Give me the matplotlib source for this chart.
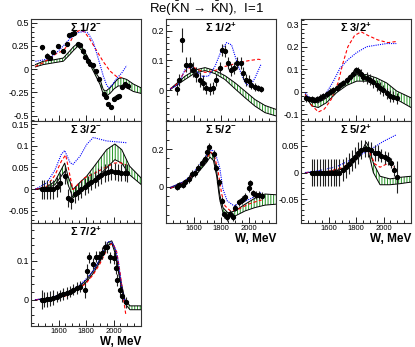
import matplotlib
matplotlib.use("Agg")
import matplotlib.pyplot as plt
from matplotlib.ticker import FixedLocator, MultipleLocator, FuncFormatter

plt.rcParams['font.family'] = ['Liberation Sans', 'DejaVu Sans']
plt.rcParams['mathtext.fontset'] = 'custom'
plt.rcParams['mathtext.rm'] = 'Liberation Sans'
plt.rcParams['mathtext.bf'] = 'Liberation Sans:bold'
plt.rcParams['mathtext.it'] = 'Liberation Sans:italic'
plt.rcParams['hatch.linewidth'] = 0.75

# ---------------- data ----------------
# Sigma 1/2-
p1_w = [1478, 1514, 1538, 1562, 1598, 1635, 1660, 1679, 1696, 1713, 1740, 1756, 1776, 1793, 1812,
        1829, 1849, 1873, 1897, 1931, 1945, 1962, 1982, 2003, 2023, 2042, 2064, 2083, 2103]
p1_v = [0.235, 0.139, 0.122, 0.18, 0.253, 0.2, 0.27, 0.37, 0.375, 0.389, 0.275, 0.264, 0.192, 0.132, 0.085,
        0.058, 0.04, -0.021, -0.11, -0.263, -0.299, -0.37, -0.402, -0.316, -0.295, -0.29, -0.188, -0.163, -0.18]
p1_err = [0.025, 0.03, 0.025, 0.02, 0.02, 0.02, 0.015, 0.015, 0.015, 0.015, 0.015, 0.015, 0.015, 0.015, 0.015,
          0.015, 0.015, 0.015, 0.015, 0.02, 0.02, 0.02, 0.02, 0.025, 0.025, 0.025, 0.025, 0.025, 0.025]
p1_red_w = [1432, 1490, 1538, 1587, 1635, 1684, 1720, 1756, 1790, 1829, 1877, 1926, 1975, 2023, 2060]
p1_red_v = [0.03, 0.07, 0.12, 0.17, 0.2, 0.29, 0.39, 0.42, 0.40, 0.32, 0.2, 0.08, -0.02, -0.08, -0.09]
p1_blue_w = [1432, 1490, 1538, 1587, 1635, 1684, 1732, 1780, 1815, 1853, 1877, 1902, 1926, 1950, 1965,
             1990, 2023, 2060, 2096]
p1_blue_v = [0.085, 0.1, 0.12, 0.18, 0.25, 0.33, 0.39, 0.405, 0.39, 0.29, 0.175, 0.05, -0.074, -0.17, -0.2,
             -0.17, -0.1, -0.04, 0.04]
p1_band_w = [1432, 1490, 1562, 1635, 1684, 1708, 1740, 1770, 1805, 1829, 1877, 1902, 1926, 1945, 1975,
             2005, 2035, 2060, 2096, 2145, 2200]
p1_band_hi = [0.05, 0.086, 0.1, 0.12, 0.2, 0.24, 0.28, 0.24, 0.15, 0.086, -0.05, -0.11, -0.22, -0.235, -0.2,
              -0.147, -0.1, -0.093, -0.11, -0.16, -0.2]
p1_band_lo = [0.025, 0.05, 0.068, 0.086, 0.16, 0.2, 0.246, 0.2, 0.1, 0.05, -0.09, -0.164, -0.27, -0.29, -0.26,
              -0.21, -0.18, -0.18, -0.2, -0.24, -0.26]

# Sigma 1/2+
p2_w = [1478, 1497, 1514, 1548, 1572, 1596, 1620, 1645, 1669, 1693, 1717, 1741, 1765, 1790, 1807,
        1826, 1850, 1874, 1898, 1918, 1942, 1959, 1979, 2001, 2020, 2044, 2068, 2093]
p2_v = [0.005, 0.036, 0.169, 0.086, 0.086, 0.069, 0.052, 0.036, 0.025, 0.008, 0.005, 0.008, 0.036, 0.075, 0.136,
        0.133, 0.091, 0.069, 0.075, 0.091, 0.091, 0.058, 0.036, 0.03, 0.019, 0.011, 0.008, 0.005]
p2_err = [0.02, 0.02, 0.04, 0.025, 0.025, 0.025, 0.025, 0.025, 0.025, 0.02, 0.02, 0.02, 0.02, 0.02, 0.02,
          0.02, 0.02, 0.02, 0.02, 0.02, 0.02, 0.02, 0.02, 0.02, 0.015, 0.015, 0.01, 0.01]
p2_red_w = [1432, 1478, 1538, 1587, 1635, 1684, 1756, 1829, 1902, 1975, 2010, 2072, 2096]
p2_red_v = [0.005, 0.02, 0.064, 0.08, 0.069, 0.06, 0.066, 0.08, 0.089, 0.097, 0.1, 0.104, 0.102]
p2_blue_w = [1432, 1490, 1538, 1572, 1611, 1659, 1708, 1756, 1805, 1841, 1877, 1926, 1975, 2010, 2047, 2090]
p2_blue_v = [0.005, 0.02, 0.069, 0.08, 0.069, 0.047, 0.047, 0.08, 0.136, 0.16, 0.152, 0.08, 0.025, 0.013,
             0.041, 0.086]
p2_band_w = [1432, 1538, 1611, 1684, 1756, 1829, 1902, 1975, 2047, 2120, 2200]
p2_band_hi = [0.005, 0.047, 0.068, 0.076, 0.066, 0.049, 0.025, -0.003, -0.031, -0.051, -0.064]
p2_band_lo = [0.003, 0.036, 0.058, 0.066, 0.056, 0.036, 0.005, -0.025, -0.053, -0.075, -0.086]

# Sigma 3/2+
p3_w = [1438, 1458, 1478, 1497, 1514, 1538, 1562, 1587, 1611, 1635, 1659, 1684, 1708, 1732, 1756,
        1780, 1800, 1817, 1834, 1853, 1877, 1902, 1926, 1950, 1975, 1999, 2023, 2047, 2072, 2096]
p3_v = [-0.03, -0.032, -0.034, -0.037, -0.034, -0.027, -0.02, -0.01, 0.0, 0.007, 0.017, 0.028, 0.039, 0.051,
        0.065, 0.08, 0.095, 0.09, 0.08, 0.065, 0.061, 0.054, 0.042, 0.028, 0.017, 0.006, -0.007, -0.019,
        -0.022, -0.03]
p3_err = [0.015, 0.015, 0.015, 0.015, 0.015, 0.015, 0.015, 0.015, 0.015, 0.015, 0.015, 0.015, 0.015, 0.015,
          0.015, 0.015, 0.015, 0.02, 0.02, 0.02, 0.025, 0.025, 0.025, 0.025, 0.025, 0.025, 0.025, 0.025,
          0.025, 0.025]
p3_red_w = [1432, 1478, 1526, 1570, 1620, 1669, 1705, 1741, 1790, 1838, 1887, 1959, 2032, 2093]
p3_red_v = [-0.012, -0.06, -0.09, -0.077, -0.034, 0.039, 0.127, 0.2, 0.25, 0.266, 0.25, 0.23, 0.218, 0.223]
p3_blue_w = [1432, 1478, 1526, 1586, 1635, 1684, 1741, 1805, 1878, 1950, 2023, 2093]
p3_blue_v = [-0.005, -0.041, -0.041, -0.004, 0.046, 0.105, 0.142, 0.174, 0.2, 0.207, 0.214, 0.214]
p3_band_w = [1432, 1478, 1526, 1587, 1659, 1732, 1805, 1877, 1950, 2023, 2096, 2200]
p3_band_hi = [-0.012, -0.048, -0.048, -0.027, 0.017, 0.054, 0.076, 0.076, 0.061, 0.039, 0.003, -0.027]
p3_band_lo = [-0.019, -0.063, -0.07, -0.048, -0.004, 0.028, 0.047, 0.047, 0.032, 0.003, -0.034, -0.07]

# Sigma 3/2-
p4_w = [1478, 1497, 1514, 1538, 1562, 1587, 1611, 1645, 1672, 1693, 1717, 1741, 1765, 1790, 1814,
        1838, 1863, 1887, 1911, 1935, 1959, 1984, 2008, 2032, 2057, 2081, 2100]
p4_v = [0.0, 0.0, 0.0, 0.0, 0.0, 0.005, 0.015, 0.031, -0.02, -0.025, -0.012, -0.006, 0.0, 0.006, 0.011,
        0.017, 0.022, 0.028, 0.033, 0.037, 0.039, 0.041, 0.04, 0.039, 0.038, 0.038, 0.037]
p4_err = [0.022, 0.022, 0.022, 0.022, 0.022, 0.022, 0.022, 0.02, 0.02, 0.02, 0.02, 0.02, 0.02, 0.02, 0.02,
          0.02, 0.02, 0.02, 0.02, 0.02, 0.02, 0.02, 0.02, 0.02, 0.02, 0.02, 0.02]
p4_red_w = [1432, 1514, 1574, 1620, 1652, 1684, 1705, 1741, 1790, 1863, 1935, 2007, 2047, 2093]
p4_red_v = [0.0, 0.006, 0.032, 0.064, 0.079, 0.03, -0.001, 0.011, 0.026, 0.037, 0.049, 0.06, 0.061, 0.056]
p4_blue_w = [1432, 1514, 1574, 1620, 1645, 1684, 1705, 1757, 1805, 1853, 1902, 1950, 2023, 2093]
p4_blue_v = [0.0, 0.014, 0.044, 0.08, 0.089, 0.061, 0.057, 0.076, 0.103, 0.119, 0.115, 0.111, 0.109, 0.107]
p4_band_w = [1432, 1514, 1574, 1620, 1645, 1669, 1705, 1741, 1805, 1877, 1950, 2010, 2060, 2117, 2200]
p4_band_hi = [0.0, 0.005, 0.018, 0.045, 0.06, 0.03, -0.001, 0.011, 0.03, 0.06, 0.091, 0.104, 0.091, 0.053,
              0.026]
p4_band_lo = [-0.001, 0.002, 0.01, 0.03, 0.041, 0.011, -0.02, -0.012, 0.007, 0.026, 0.049, 0.068, 0.06,
              0.033, 0.011]

# Sigma 5/2-
p5_w = [1478, 1497, 1520, 1541, 1565, 1590, 1610, 1635, 1664, 1684, 1700, 1712, 1749, 1766, 1785,
        1804, 1821, 1845, 1869, 1889, 1905, 1929, 1953, 1977, 2001, 2013, 2030, 2054, 2078, 2098]
p5_v = [0.0, 0.007, 0.011, 0.023, 0.041, 0.068, 0.071, 0.1, 0.125, 0.148, 0.184, 0.211, 0.175, 0.1, 0.023,
        -0.075, -0.147, -0.161, -0.143, -0.161, -0.111, -0.084, -0.072, -0.054, -0.007, 0.018, -0.036,
        -0.043, -0.043, -0.048]
p5_err = [0.02] * 30
p5_red_w = [1432, 1538, 1635, 1696, 1725, 1752, 1780, 1805, 1829, 1869, 1926, 1999, 2072, 2096]
p5_red_v = [-0.007, 0.023, 0.09, 0.148, 0.184, 0.166, 0.077, -0.039, -0.102, -0.129, -0.12, -0.093, -0.075,
            -0.071]
p5_blue_w = [1432, 1538, 1635, 1696, 1732, 1756, 1790, 1814, 1845, 1894, 1955, 2023, 2093]
p5_blue_v = [-0.004, 0.029, 0.104, 0.166, 0.196, 0.184, 0.104, -0.013, -0.075, -0.102, -0.084, -0.061, -0.03]
p5_band_w = [1432, 1538, 1635, 1696, 1720, 1745, 1768, 1790, 1814, 1850, 1902, 1975, 2047, 2120, 2200]
p5_band_hi = [-0.004, 0.029, 0.095, 0.157, 0.184, 0.166, 0.086, -0.039, -0.111, -0.139, -0.129, -0.093,
              -0.061, -0.039, -0.043]
p5_band_lo = [-0.009, 0.018, 0.077, 0.13, 0.157, 0.139, 0.059, -0.066, -0.138, -0.161, -0.156, -0.129,
              -0.111, -0.098, -0.093]

# Sigma 5/2+
p6_w = [1478, 1498, 1518, 1538, 1558, 1578, 1598, 1618, 1638, 1658, 1678, 1705, 1729, 1749, 1770,
        1790, 1814, 1838, 1863, 1887, 1911, 1935, 1959, 1984, 2008, 2032, 2057, 2074, 2098]
p6_v = [0.0, 0.0, 0.0, 0.0, 0.0, 0.0, 0.0, 0.0, 0.0, 0.0, 0.0, 0.005, 0.01, 0.017, 0.023,
        0.029, 0.037, 0.043, 0.045, 0.045, 0.042, 0.037, 0.036, 0.032, 0.029, 0.026, 0.018, 0.004, -0.008]
p6_err = [0.025, 0.025, 0.025, 0.025, 0.025, 0.025, 0.025, 0.025, 0.025, 0.025, 0.025, 0.02, 0.02, 0.02, 0.02,
          0.02, 0.02, 0.018, 0.016, 0.015, 0.015, 0.015, 0.015, 0.012, 0.012, 0.012, 0.01, 0.01, 0.03]
p6_red_w = [1432, 1587, 1708, 1780, 1829, 1863, 1902, 1938, 1975, 2023, 2047, 2079]
p6_red_v = [0.0, 0.001, 0.01, 0.024, 0.036, 0.043, 0.036, 0.016, 0.01, 0.016, 0.016, 0.01]
p6_blue_w = [1432, 1538, 1659, 1780, 1902, 1995, 2093]
p6_blue_v = [0.0, 0.004, 0.011, 0.026, 0.043, 0.058, 0.071]
p6_band_w = [1432, 1538, 1659, 1757, 1829, 1853, 1874, 1890, 1902, 1926, 1975, 2047, 2120, 2200]
p6_band_hi = [0.0, 0.001, 0.004, 0.013, 0.034, 0.046, 0.057, 0.05, 0.04, 0.018, -0.007, -0.012, -0.009,
              -0.007]
p6_band_lo = [0.0, 0.0, 0.003, 0.012, 0.031, 0.042, 0.05, 0.04, 0.026, 0.0, -0.023, -0.023, -0.021, -0.018]

# Sigma 7/2+
p7_w = [1478, 1497, 1514, 1538, 1562, 1587, 1611, 1635, 1659, 1684, 1708, 1732, 1756, 1790, 1805,
        1822, 1850, 1870, 1894, 1914, 1938, 1955, 1975, 2000, 2016, 2028, 2047, 2064, 2088]
p7_v = [0.0, 0.0, 0.001, 0.003, 0.005, 0.008, 0.011, 0.014, 0.017, 0.021, 0.026, 0.03, 0.034, 0.025, 0.073,
        0.109, 0.093, 0.111, 0.111, 0.121, 0.137, 0.135, 0.109, 0.107, 0.081, 0.051, 0.026, 0.009, -0.007]
p7_err = [0.025, 0.02, 0.02, 0.02, 0.02, 0.015, 0.015, 0.015, 0.015, 0.015, 0.015, 0.015, 0.015, 0.02, 0.02,
          0.015, 0.015, 0.015, 0.015, 0.015, 0.015, 0.015, 0.015, 0.015, 0.015, 0.015, 0.015, 0.015, 0.015]
p7_red_w = [1432, 1538, 1659, 1756, 1805, 1853, 1902, 1950, 1975, 1995, 2023, 2047, 2072, 2090]
p7_red_v = [0.0, 0.002, 0.01, 0.03, 0.044, 0.065, 0.093, 0.128, 0.141, 0.146, 0.124, 0.072, 0.004, -0.04]
p7_blue_w = [1432, 1538, 1659, 1756, 1805, 1853, 1902, 1940, 1962, 1990, 2015, 2035, 2060, 2085]
p7_blue_v = [0.0, 0.004, 0.018, 0.038, 0.055, 0.075, 0.105, 0.14, 0.15, 0.148, 0.13, 0.1, 0.03, -0.01]
p7_band_w = [1432, 1538, 1659, 1756, 1805, 1853, 1902, 1940, 1962, 1987, 2010, 2047, 2083, 2120, 2160, 2200]
p7_band_hi = [0.0, 0.004, 0.019, 0.036, 0.052, 0.075, 0.104, 0.135, 0.148, 0.152, 0.132, 0.06, 0.0, -0.016,
              -0.016, -0.016]
p7_band_lo = [0.0, 0.002, 0.015, 0.031, 0.047, 0.068, 0.098, 0.128, 0.141, 0.146, 0.122, 0.05, -0.01,
              -0.026, -0.026, -0.026]

titles = [r'$\mathbf{\Sigma\ 1/2^{-}}$', r'$\mathbf{\Sigma\ 1/2^{+}}$', r'$\mathbf{\Sigma\ 3/2^{+}}$',
          r'$\mathbf{\Sigma\ 3/2^{-}}$', r'$\mathbf{\Sigma\ 5/2^{-}}$', r'$\mathbf{\Sigma\ 5/2^{+}}$',
          r'$\mathbf{\Sigma\ 7/2^{+}}$']
ylims = [(-0.557, 0.54), (-0.103, 0.239), (-0.13, 0.323), (-0.078, 0.157),
         (-0.193, 0.349), (-0.095, 0.097), (-0.068, 0.198)]
yticks = [[-0.5, -0.25, 0, 0.25, 0.5], [0, 0.1, 0.2], [-0.1, 0, 0.1, 0.2, 0.3],
          [-0.05, 0, 0.05, 0.1, 0.15], [0, 0.2], [-0.05, 0, 0.05], [0, 0.1]]
yminor = [0.05, 0.02, 0.02, 0.01, 0.05, 0.01, 0.02]

panels = [
    (p1_w, p1_v, p1_err, p1_red_w, p1_red_v, p1_blue_w, p1_blue_v, p1_band_w, p1_band_lo, p1_band_hi),
    (p2_w, p2_v, p2_err, p2_red_w, p2_red_v, p2_blue_w, p2_blue_v, p2_band_w, p2_band_lo, p2_band_hi),
    (p3_w, p3_v, p3_err, p3_red_w, p3_red_v, p3_blue_w, p3_blue_v, p3_band_w, p3_band_lo, p3_band_hi),
    (p4_w, p4_v, p4_err, p4_red_w, p4_red_v, p4_blue_w, p4_blue_v, p4_band_w, p4_band_lo, p4_band_hi),
    (p5_w, p5_v, p5_err, p5_red_w, p5_red_v, p5_blue_w, p5_blue_v, p5_band_w, p5_band_lo, p5_band_hi),
    (p6_w, p6_v, p6_err, p6_red_w, p6_red_v, p6_blue_w, p6_blue_v, p6_band_w, p6_band_lo, p6_band_hi),
    (p7_w, p7_v, p7_err, p7_red_w, p7_red_v, p7_blue_w, p7_blue_v, p7_band_w, p7_band_lo, p7_band_hi),
]

# ---------------- layout (pixels) ----------------
W_PX, H_PX = 415, 347
cols = [31, 166, 301]
rows = [(19, 121), (121, 223), (223, 326)]
grid = [(0, 0), (1, 0), (2, 0), (0, 1), (1, 1), (2, 1), (0, 2)]
with_xlabels = [False, False, False, False, True, True, True]

fig = plt.figure(figsize=(W_PX / 100, H_PX / 100), dpi=100)
fig.patch.set_facecolor('white')

fmt = FuncFormatter(lambda v, p: '0' if abs(v) < 1e-9 else f'{v:g}')

for i, (c, r) in enumerate(grid):
    x0 = cols[c]
    top, bot = rows[r]
    ax = fig.add_axes([x0 / W_PX, 1 - bot / H_PX, 110 / W_PX, (bot - top) / H_PX])
    w, v, e, rw, rv, bw, bv, gw, glo, ghi = panels[i]

    # model band: green hatching with black borders
    ax.fill_between(gw, glo, ghi, facecolor='none', edgecolor='#2f9a2f', hatch='||||||', linewidth=0, zorder=2)
    ax.plot(gw, ghi, color='black', lw=0.7, zorder=3)
    ax.plot(gw, glo, color='black', lw=0.7, zorder=3)
    ax.plot(rw, rv, color='red', lw=0.8, ls=(0, (3, 2)), zorder=4)
    ax.plot(bw, bv, color='blue', lw=0.8, ls=(0, (1, 1)), zorder=4)
    ax.errorbar(w, v, yerr=e, fmt='o', color='black', ecolor='#222222', ms=2.8, elinewidth=0.8,
                capsize=0, zorder=5)

    ax.set_xlim(1400, 2200)
    ax.set_ylim(*ylims[i])
    ax.xaxis.set_major_locator(FixedLocator([1600, 1800, 2000]))
    ax.xaxis.set_minor_locator(MultipleLocator(50))
    ax.yaxis.set_major_locator(FixedLocator(yticks[i]))
    ax.yaxis.set_minor_locator(MultipleLocator(yminor[i]))
    ax.yaxis.set_major_formatter(fmt)
    ax.tick_params(which='both', direction='in', top=False, right=False, width=0.6, pad=1.5)
    ax.tick_params(which='major', length=4)
    ax.tick_params(which='minor', length=2)
    ax.tick_params(axis='y', labelsize=6.5)
    ax.tick_params(axis='x', labelsize=5.5)
    if not with_xlabels[i]:
        ax.set_xticklabels([])
    for s in ax.spines.values():
        s.set_linewidth(0.8)
        s.set_color('#333333')

    ax.text(0.5, 0.985, titles[i], transform=ax.transAxes, ha='center', va='top', fontsize=8, zorder=6)
    if with_xlabels[i]:
        ax.text(1.0, -0.1, 'W, MeV', transform=ax.transAxes, ha='right', va='top',
                fontsize=8.5, fontweight='bold')

fig.text(207 / W_PX, 1 - 9 / H_PX, r'Re($\bar{\mathrm{K}}$N$\,\rightarrow\,$$\bar{\mathrm{K}}$N),  I=1',
         ha='center', va='center', fontsize=9.5)

fig.savefig('out.png', dpi=100)
